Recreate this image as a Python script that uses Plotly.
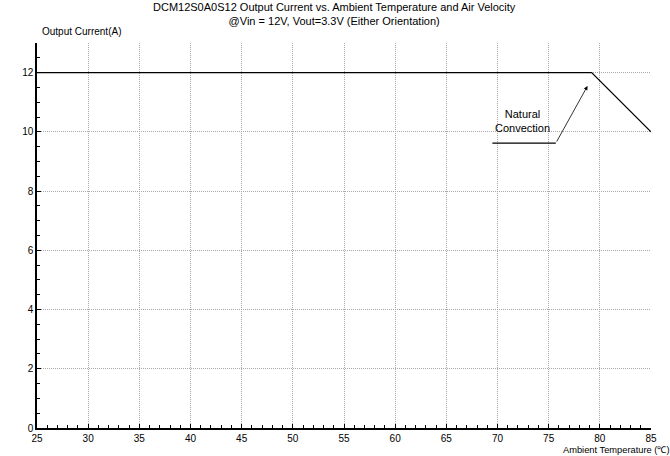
import plotly.graph_objects as go

# derating curve, natural convection
temp = [25, 79.2, 85]
current = [12, 12, 10]

x_ticks = list(range(25, 90, 5))
y_ticks = list(range(0, 14, 2))

# leader line for the "Natural Convection" label
leader_x = [69.5, 75.7]
leader_y = [9.62, 9.62]
arrow_tip = (78.8, 11.55)

font = "Liberation Sans, Arial, sans-serif"

fig = go.Figure()

fig.add_trace(go.Scatter(x=temp, y=current, mode="lines",
                         line=dict(color="black", width=1.3), showlegend=False,
                         hoverinfo="skip"))
fig.add_trace(go.Scatter(x=leader_x, y=leader_y, mode="lines",
                         line=dict(color="black", width=1.3), showlegend=False,
                         hoverinfo="skip"))

# arrow from end of leader to the curve
fig.add_annotation(x=arrow_tip[0], y=arrow_tip[1], ax=leader_x[1], ay=leader_y[1],
                   xref="x", yref="y", axref="x", ayref="y", text="",
                   showarrow=True, arrowhead=2, arrowsize=1, arrowwidth=0.8,
                   arrowcolor="black")
fig.add_annotation(x=72.4, y=10.35, text="Natural<br>Convection", showarrow=False,
                   font=dict(family=font, size=11, color="black"))

# title as an annotation so both lines sit where they should
fig.add_annotation(x=0.485, y=1.0, xref="paper", yref="paper", yanchor="bottom",
                   yshift=14, showarrow=False,
                   text="DCM12S0A0S12 Output Current vs. Ambient Temperature and Air Velocity"
                        "<br>@Vin = 12V, Vout=3.3V (Either Orientation)",
                   font=dict(family=font, size=11, color="black"))

fig.add_annotation(x=0, y=1.0, xref="paper", yref="paper", xanchor="left",
                   yanchor="bottom", yshift=4, xshift=3,
                   text="Output Current(A)", showarrow=False,
                   font=dict(family=font, size=10, color="black"))
fig.add_annotation(x=1.0, y=0, xref="paper", yref="paper", xanchor="right",
                   yanchor="top", yshift=-15, xshift=21,
                   text="Ambient Temperature (℃)", showarrow=False,
                   font=dict(family=font, size=9.3, color="black"))

fig.update_layout(
    width=670, height=456,
    margin=dict(l=37, r=19, t=43, b=28),
    plot_bgcolor="white", paper_bgcolor="white",
    font=dict(family=font, size=10, color="black"),
)

fig.update_xaxes(range=[25, 85], tickvals=x_ticks, showgrid=True,
                 gridcolor="#a8a8a8", griddash="1px,1px", gridwidth=1,
                 showline=True, linecolor="black", linewidth=1.5,
                 ticks="inside", ticklen=4, tickcolor="black",
                 minor=dict(dtick=1, ticks="inside", ticklen=3, tickcolor="black"),
                 zeroline=False, tickfont=dict(size=10))
fig.update_yaxes(range=[0, 13], tickvals=y_ticks, showgrid=True,
                 gridcolor="#a8a8a8", griddash="1px,1px", gridwidth=1,
                 showline=True, linecolor="black", linewidth=1.5,
                 ticks="inside", ticklen=4, tickcolor="black",
                 minor=dict(dtick=0.5, ticks="inside", ticklen=3, tickcolor="black"),
                 zeroline=False, tickfont=dict(size=10))

# drop the default page margin so the figure sits at the window's corner
fig.write_html("out.html", config={"displayModeBar": False},
               post_script="document.body.style.margin='0';")
